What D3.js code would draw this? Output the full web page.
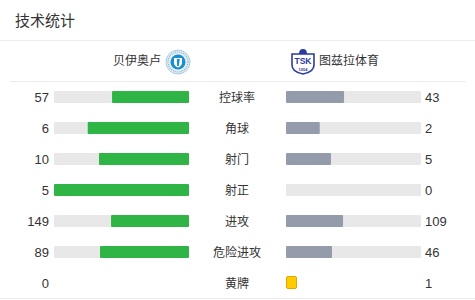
<!DOCTYPE html>
<html>
  <head>
    <meta charset="utf-8">
    <title>技术统计</title>
    <script src="https://cdn.jsdelivr.net/npm/d3@7"></script>
    <style>
      body { margin: 0; background: white; }
      svg { display: block; }
      text { font-family: "Liberation Sans", "Noto Sans CJK SC", sans-serif; fill: #333; }
      .sep { stroke: #ececec; stroke-width: 1px; }
    </style>
  </head>
  <body>
    <svg></svg>
    <script>
      // data
      var homeTeam = "贝伊奥卢",
          awayTeam = "图兹拉体育";
      var statLabels = ["控球率", "角球", "射门", "射正", "进攻", "危险进攻", "黄牌"];
      var homeValues = [57, 6, 10, 5, 149, 89, 0];
      var awayValues = [43, 2, 5, 0, 109, 46, 1];

      // layout
      var svgWidth = 475, svgHeight = 300,
          barW = 135, barH = 12,
          leftBarX = 54, rightBarX = 286,
          centerX = 237;

      var svg = d3.select("svg")
        .attr("width", svgWidth)
        .attr("height", svgHeight);

      svg.append("text")
        .attr("x", 15).attr("y", 26)
        .style("font-size", "15px")
        .text("技术统计");

      svg.append("line").classed("sep", true)
        .attr("x1", 0).attr("x2", svgWidth).attr("y1", 40.5).attr("y2", 40.5);
      svg.append("line").classed("sep", true)
        .attr("x1", 10).attr("x2", 466).attr("y1", 81.5).attr("y2", 81.5);
      svg.append("line").classed("sep", true)
        .attr("x1", 0).attr("x2", svgWidth).attr("y1", 298.5).attr("y2", 298.5);

      // team header
      svg.append("text")
        .attr("x", 161).attr("y", 65)
        .attr("text-anchor", "end")
        .style("font-size", "12px")
        .text(homeTeam);
      svg.append("text")
        .attr("x", 319).attr("y", 65)
        .style("font-size", "12px")
        .text(awayTeam);

      drawHomeLogo(178, 62);
      drawAwayLogo(303, 61);

      function drawHomeLogo(cx, cy) {
        var g = svg.append("g").attr("transform", "translate(" + [cx, cy] + ")");
        g.append("circle").attr("r", 12).attr("fill", "#e6eef3").attr("stroke", "#a9cde2").attr("stroke-width", 1);
        g.append("circle").attr("r", 10).attr("fill", "none").attr("stroke", "#7fb3d3")
          .attr("stroke-width", 1.2).attr("stroke-dasharray", "1,1");
        g.append("circle").attr("r", 7.5).attr("fill", "#1a8fd0");
        g.append("path")
          .attr("d", "M-4,-4 L4,-4 L4,0.5 Q4,4 0,5.5 Q-4,4 -4,0.5 Z")
          .attr("fill", "white");
        g.append("path")
          .attr("d", "M-1.2,-3 L1.8,-3 L0.8,4 L-0.8,4 Z")
          .attr("fill", "#1a8fd0");
      }

      function drawAwayLogo(cx, cy) {
        var g = svg.append("g").attr("transform", "translate(" + [cx, cy] + ")");
        g.append("path")
          .attr("d", "M-11,-7 L11,-7 L11,4 Q11,11 0,13 Q-11,11 -11,4 Z")
          .attr("fill", "white").attr("stroke", "#2b3aa0").attr("stroke-width", 1.6);
        g.append("path")
          .attr("d", "M-4,-7 Q-4,-12 0,-12 Q4,-12 4,-7 Z")
          .attr("fill", "#2b3aa0");
        g.append("text")
          .attr("x", 0).attr("y", 3)
          .attr("text-anchor", "middle")
          .style("font-size", "8.5px").style("font-weight", "bold")
          .style("fill", "#2b3aa0")
          .text("TSK");
        g.append("text")
          .attr("x", 0).attr("y", 10)
          .attr("text-anchor", "middle")
          .style("font-size", "4px").style("font-weight", "bold")
          .style("fill", "#2b3aa0")
          .text("1954");
      }

      // scales
      var y = d3.scalePoint()
        .domain(statLabels)
        .range([97, 283]);

      var rows = svg.selectAll(".row")
        .data(statLabels.map(function(label, i) {
          return { label: label, home: homeValues[i], away: awayValues[i] };
        }))
        .enter().append("g")
          .classed("row", true)
          .attr("transform", function(d) { return "translate(0," + y(d.label) + ")"; });

      rows.append("text")
        .attr("x", 49).attr("y", 4.5)
        .attr("text-anchor", "end")
        .style("font-size", "13px")
        .text(function(d) { return d.home; });

      rows.append("text")
        .attr("x", 425).attr("y", 4.5)
        .style("font-size", "13px")
        .text(function(d) { return d.away; });

      rows.append("text")
        .attr("x", centerX).attr("y", 4.5)
        .attr("text-anchor", "middle")
        .style("font-size", "12px")
        .text(function(d) { return d.label; });

      var barRows = rows.filter(function(d) { return d.label !== "黄牌"; });

      barRows.each(function(d) {
        var g = d3.select(this);
        var x = d3.scaleLinear().domain([0, d.home + d.away]).range([0, barW]);

        g.append("rect")
          .attr("x", leftBarX).attr("y", -barH / 2)
          .attr("width", barW).attr("height", barH)
          .attr("rx", 1)
          .attr("fill", "#e8e8e8");
        g.append("rect")
          .attr("x", leftBarX + barW - x(d.home)).attr("y", -barH / 2)
          .attr("width", x(d.home)).attr("height", barH)
          .attr("rx", 1)
          .attr("fill", "#2fb446");

        g.append("rect")
          .attr("x", rightBarX).attr("y", -barH / 2)
          .attr("width", barW).attr("height", barH)
          .attr("rx", 1)
          .attr("fill", "#e8e8e8");
        g.append("rect")
          .attr("x", rightBarX).attr("y", -barH / 2)
          .attr("width", x(d.away)).attr("height", barH)
          .attr("rx", 1)
          .attr("fill", "#949cab");
      });

      // yellow card row: card icons instead of bars
      var cardRow = rows.filter(function(d) { return d.label === "黄牌"; });
      cardRow.each(function(d) {
        var g = d3.select(this);
        if (d.home > 0) {
          g.append("rect")
            .attr("x", 178.5).attr("y", -6.5)
            .attr("width", 10).attr("height", 12).attr("rx", 1.5)
            .attr("fill", "#ffcc00").attr("stroke", "#e0a800");
        }
        if (d.away > 0) {
          g.append("rect")
            .attr("x", rightBarX + 0.5).attr("y", -6.5)
            .attr("width", 10).attr("height", 12).attr("rx", 1.5)
            .attr("fill", "#ffcc00").attr("stroke", "#e0a800");
        }
      });
    </script>
  </body>
</html>
